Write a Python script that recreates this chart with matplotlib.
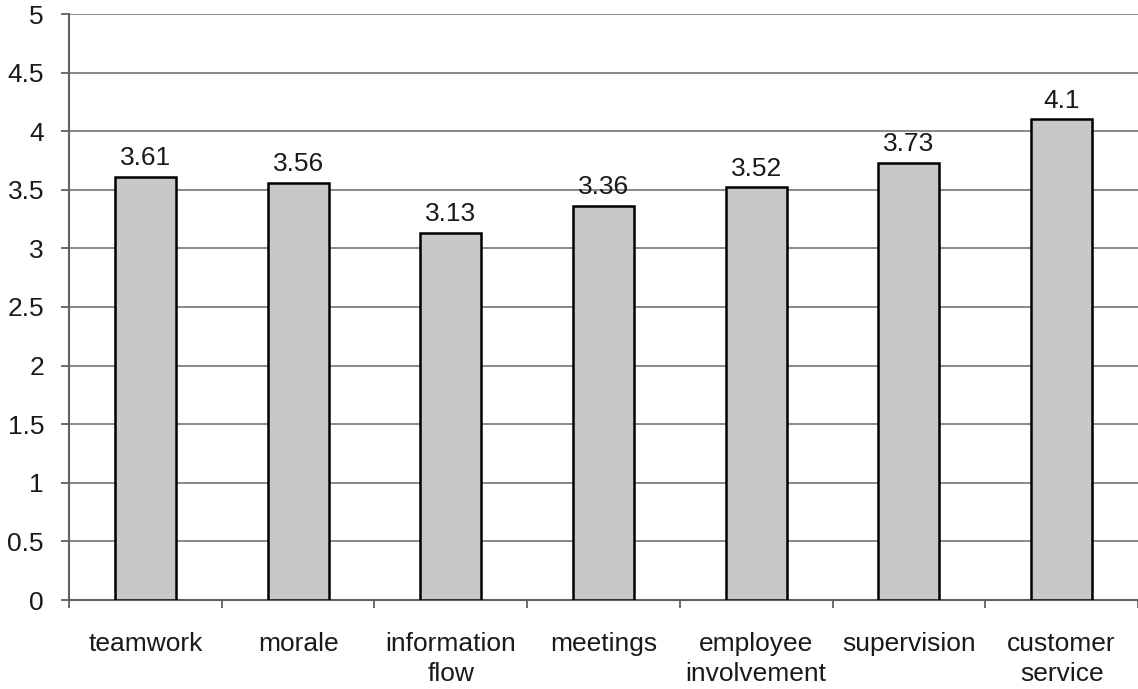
import matplotlib
matplotlib.use("Agg")
import matplotlib.pyplot as plt
import numpy as np

categories = ["teamwork", "morale", "information\nflow", "meetings",
              "employee\ninvolvement", "supervision", "customer\nservice"]
values = [3.61, 3.56, 3.13, 3.36, 3.52, 3.73, 4.1]
value_labels = ["3.61", "3.56", "3.13", "3.36", "3.52", "3.73", "4.1"]
yticks = [0, 0.5, 1, 1.5, 2, 2.5, 3, 3.5, 4, 4.5, 5]
ytick_labels = ["0", "0.5", "1", "1.5", "2", "2.5", "3", "3.5", "4", "4.5", "5"]

plt.rcParams['font.family'] = ['Liberation Sans', 'DejaVu Sans']
FS = 19

fig = plt.figure(figsize=(11.38, 6.89), dpi=100)
ax = fig.add_axes([69/1138, 89/689, 1 - 69/1138, (600-14)/689])

x = np.arange(len(categories))
ax.bar(x, values, width=0.4, color="#c8c8c8", edgecolor="black", linewidth=1.8, zorder=3)

for xi, v, lab in zip(x, values, value_labels):
    ax.annotate(lab, (xi, v), xytext=(0, 5), textcoords="offset points",
                ha="center", va="bottom", fontsize=FS, color="#1a1a1a")

ax.set_xlim(-0.5, len(categories) - 0.5)
ax.set_ylim(0, 5)
ax.set_yticks(yticks)
ax.set_yticklabels(ytick_labels, fontsize=FS, color="#1a1a1a")
ax.yaxis.grid(True, color="#808080", linewidth=1.3, zorder=0)
ax.set_axisbelow(True)

ax.set_xticks(np.arange(len(categories) + 1) - 0.5)
ax.set_xticklabels([])
ax.set_xticks(x, minor=True)
ax.set_xticklabels(categories, minor=True, fontsize=FS, color="#1a1a1a", linespacing=1.3)
ax.tick_params(axis="x", which="minor", length=0, pad=23)
ax.tick_params(axis="x", which="major", direction="out", length=6, color="#606060", width=1.3)
ax.tick_params(axis="y", direction="out", length=6, color="#606060", width=1.3, pad=12)

for s in ["top", "right"]:
    ax.spines[s].set_visible(False)
ax.spines["left"].set_color("#606060")
ax.spines["left"].set_linewidth(1.5)
ax.spines["bottom"].set_color("#606060")
ax.spines["bottom"].set_linewidth(1.5)

fig.savefig("out.png", dpi=100)
